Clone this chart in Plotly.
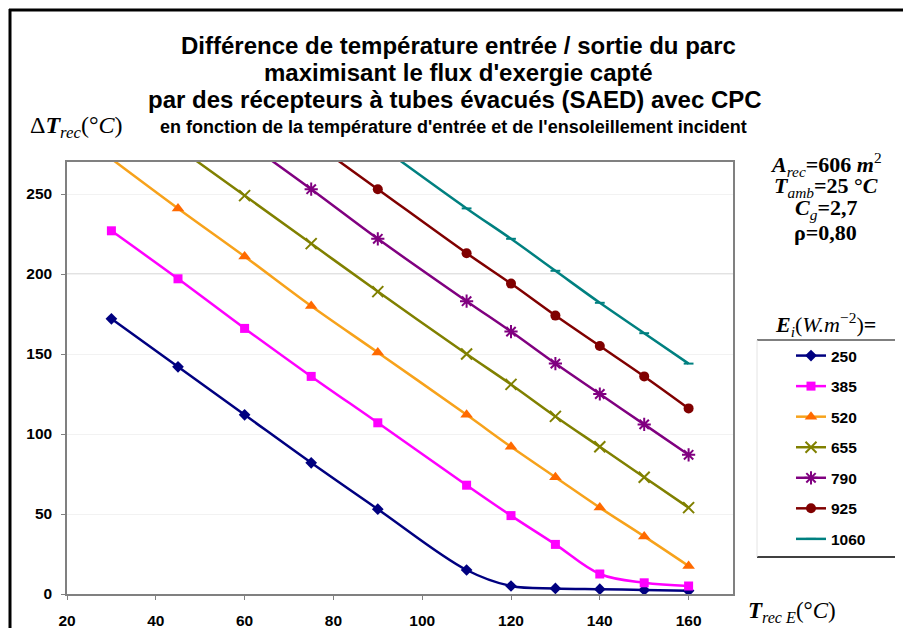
import plotly.graph_objects as go

# ---- data ----
t_in = [30, 45, 60, 75, 90, 110, 120, 130, 140, 150, 160]
series_names = ["250", "385", "520", "655", "790", "925", "1060"]
dT_250 = [172, 142, 112, 82, 53, 15, 5, 3.5, 3, 2.5, 2]
dT_385 = [227, 197, 166, 136, 107, 68, 49, 31, 12.5, 7, 5]
dT_520 = [272, 241, 211, 180, 151, 112, 92, 73, 54, 36, 17.5]
dT_655 = [None, 279, 249, 219, 189, 150, 131, 111, 92, 73, 54]
dT_790 = [None, None, 283, 253, 222, 183, 164, 144, 125, 106, 87]
dT_925 = [None, None, None, 283, 253, 213, 194, 174, 155, 136, 116]
dT_1060 = [None, None, None, None, 281, 241, 222, 202, 182, 163, 144]
x_ticks = [20, 40, 60, 80, 100, 120, 140, 160]
y_ticks = [0, 50, 100, 150, 200, 250]
highlight_grid = 200

series_values = [dT_250, dT_385, dT_520, dT_655, dT_790, dT_925, dT_1060]
line_colors = ["#000080", "#FF00FF", "#F7A21B", "#808000", "#800080", "#800000", "#008080"]
marker_colors = ["#000080", "#FF00FF", "#FF6A00", "#808000", "#800080", "#800000", "#008080"]
symbols = ["diamond", "square", "triangle-up", "x-thin-open", "asterisk-open", "circle", "line-ew-open"]
msizes = [9, 9, 11, 11, 11, 10, 7]

# plot area in pixels
W, H = 903, 628
L, R, T, B = 67, 733, 162, 594


def px(x):
    return (x - L) / (R - L)


def py(y):
    return (B - y) / (B - T)


fig = go.Figure()
for i, (name, vals) in enumerate(zip(series_names, series_values)):
    fig.add_trace(go.Scatter(
        x=t_in, y=vals, name=name, mode="lines+markers",
        line=dict(color=line_colors[i], width=2.5, shape="spline", smoothing=1),
        marker=dict(symbol=symbols[i], size=msizes[i], color=marker_colors[i],
                    line=dict(color=marker_colors[i], width=2 if "open" in symbols[i] else 0)),
        legendgroup=name,
        showlegend=True,
    ))

sans = "Liberation Sans, Arial, sans-serif"
serif = "Liberation Serif, Times New Roman, serif"

annotations = [
    dict(text="Différence de température entrée / sortie du parc", x=px(459), y=py(46)),
    dict(text="maximisant le flux d'exergie capté", x=px(458), y=py(73)),
    dict(text="par des récepteurs à tubes évacués (SAED) avec CPC", x=px(455), y=py(100)),
]
for a in annotations:
    a.update(xref="paper", yref="paper", showarrow=False, xanchor="center", yanchor="middle",
             font=dict(family=sans, size=24, color="black", weight="bold"))
annotations.append(dict(text="en fonction de la température d'entrée et de l'ensoleillement incident",
                        x=px(454), y=py(127), xref="paper", yref="paper", showarrow=False,
                        xanchor="center", yanchor="middle",
                        font=dict(family=sans, size=18, color="black", weight="bold")))
annotations.append(dict(text="Δ<b><i>T</i></b><sub><i>rec</i></sub>(°<i>C</i>)",
                        x=px(76), y=py(127), xref="paper", yref="paper", showarrow=False,
                        xanchor="center", yanchor="middle",
                        font=dict(family=serif, size=24, color="black")))
annotations.append(dict(text="<b><i>T</i></b><sub><i>rec E</i></sub>(°<i>C</i>)",
                        x=px(792), y=py(612), xref="paper", yref="paper", showarrow=False,
                        xanchor="center", yanchor="middle",
                        font=dict(family=serif, size=23, color="black")))
params = [
    ("<b><i>A</i></b><sub><i>rec</i></sub><b>=606 <i>m</i></b><sup>2</sup>", 164),
    ("<b><i>T</i></b><sub><i>amb</i></sub><b>=25 °<i>C</i></b>", 187),
    ("<b><i>C</i></b><sub><i>g</i></sub><b>=2,7</b>", 209),
    ("<b>ρ=0,80</b>", 232),
    ("<b><i>E</i></b><sub><i>i</i></sub>(<i>W.m</i><sup>−2</sup>)<b>=</b>", 324),
]
for txt, yy in params:
    annotations.append(dict(text=txt, x=px(826), y=py(yy), xref="paper", yref="paper",
                            showarrow=False, xanchor="center", yanchor="middle",
                            font=dict(family=serif, size=22, color="black")))

shapes = [
    # outer black frame (open to right/bottom)
    dict(type="line", xref="paper", yref="paper", x0=px(10), x1=px(10), y0=py(9), y1=py(660),
         line=dict(color="black", width=3)),
    dict(type="line", xref="paper", yref="paper", x0=px(9), x1=px(960), y0=py(10), y1=py(10),
         line=dict(color="black", width=3)),
    # emphasised gridline
    dict(type="line", xref="paper", yref="y", x0=0, x1=1, y0=highlight_grid, y1=highlight_grid,
         line=dict(color="#c4c4c4", width=1), layer="below"),
    # legend box lines
    dict(type="line", xref="paper", yref="paper", x0=px(757), x1=px(895), y0=py(340), y1=py(340),
         line=dict(color="#555555", width=1.5)),
    dict(type="line", xref="paper", yref="paper", x0=px(757), x1=px(895), y0=py(557), y1=py(557),
         line=dict(color="black", width=1.5)),
    dict(type="line", xref="paper", yref="paper", x0=px(757), x1=px(757), y0=py(340), y1=py(557),
         line=dict(color="#e4e4e4", width=1)),
]

fig.update_layout(
    width=W, height=H,
    margin=dict(l=L, r=W - R, t=T, b=H - B, pad=0, autoexpand=False),
    paper_bgcolor="white", plot_bgcolor="white",
    showlegend=True,
    legend=dict(x=px(791), y=py(339), xanchor="left", yanchor="top",
                font=dict(family=sans, size=15.5, color="black", weight="bold"),
                tracegroupgap=7.4, itemwidth=30, bgcolor="rgba(0,0,0,0)",
                traceorder="grouped"),
    annotations=annotations,
    shapes=shapes,
    xaxis=dict(range=[20, 170], tickvals=x_ticks, ticks="outside", ticklen=4, tickcolor="#808080",
               showline=True, linecolor="#808080", linewidth=1.5, mirror=True, showgrid=False,
               zeroline=False, ticklabelstandoff=8, automargin=False,
               tickfont=dict(family=sans, size=15.5, color="black", weight="bold")),
    yaxis=dict(range=[0, 270], tickvals=y_ticks, ticks="outside", ticklen=4, tickcolor="#808080",
               showline=True, linecolor="#808080", linewidth=1.5, mirror=True, showgrid=True,
               gridcolor="#f2f2f2", zeroline=False, ticklabelstandoff=6, automargin=False,
               tickfont=dict(family=sans, size=15.5, color="black", weight="bold")),
)

fig.write_html("out.html", config={"displayModeBar": False},
               post_script="document.body.style.margin='0';document.body.style.overflow='hidden';")
